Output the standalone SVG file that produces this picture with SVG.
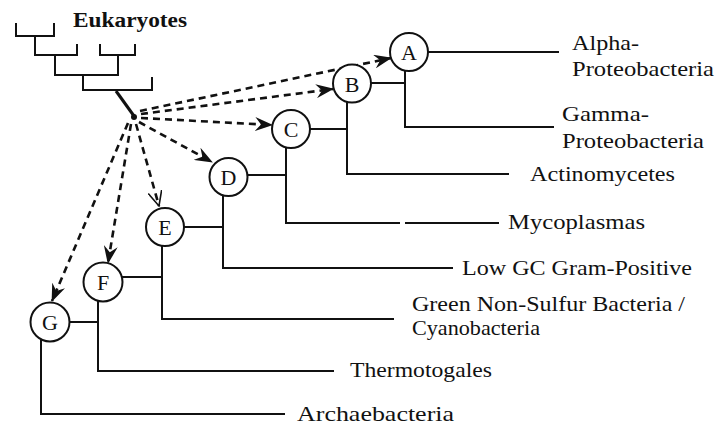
<svg xmlns="http://www.w3.org/2000/svg" width="716" height="429" viewBox="0 0 716 429">
<style>
.ln{fill:none;stroke:#111;stroke-width:2;stroke-linecap:square}
.dash{fill:none;stroke:#111;stroke-width:2.6;stroke-dasharray:7 5}
.nd{fill:#fff;stroke:#111;stroke-width:2}
.lt{font-family:"Liberation Serif","Times New Roman",serif;font-size:22px;fill:#111;text-anchor:middle}
.lb{font-family:"Liberation Serif","Times New Roman",serif;font-size:22px;fill:#111}
.eu{font-family:"Liberation Serif","Times New Roman",serif;font-size:20px;font-weight:bold;fill:#111}
</style>
<defs>
<marker id="ah" viewBox="0 0 18 14" refX="17" refY="7" markerWidth="18" markerHeight="14" markerUnits="userSpaceOnUse" orient="auto">
<path d="M0,0 L18,7 L0,14 L6,7 z" fill="#111"/>
</marker>
<marker id="ao" viewBox="0 0 16 14" refX="15" refY="7" markerWidth="16" markerHeight="14" markerUnits="userSpaceOnUse" orient="auto">
<path d="M0,0 L15,7 L0,14" fill="none" stroke="#111" stroke-width="1.6"/>
</marker>
</defs>
<rect width="716" height="429" fill="#fff"/>

<g id="eukaryotes">
<path class="ln" d="M16,24 V36 H54 V24 M35,36 V55 H77 V45 M100,45 V55 H135 V45 M55,55 V75 H118 V55 M83,75 V90 H152 V78"/>
<path d="M116,91 L134,116" fill="none" stroke="#111" stroke-width="3"/>
<circle cx="134" cy="117" r="3" fill="#111"/>
<text class="eu" x="73" y="27" textLength="114" lengthAdjust="spacingAndGlyphs">Eukaryotes</text>
</g>

<g id="connectors">
<path class="ln" d="M428,52 H558"/>
<path class="ln" d="M405,71 V127 H553"/>
<path class="ln" d="M371,83 H405"/>
<path class="ln" d="M347,102 V174 H508"/>
<path class="ln" d="M310,129 H347"/>
<path class="ln" d="M286,148 V223 H399"/>
<path class="ln" d="M406,223 H498"/>
<path class="ln" d="M247,175 H286"/>
<path class="ln" d="M223,196 V268 H452"/>
<path class="ln" d="M184,227 H223"/>
<path class="ln" d="M162,246 V319 H393"/>
<path class="ln" d="M122,277 H162"/>
<path class="ln" d="M98,301 V371 H333"/>
<path class="ln" d="M69,322 H98"/>
<path class="ln" d="M41,341 V414 H284"/>

<path class="dash" d="M140,111 L391,58" marker-end="url(#ah)"/>
<path class="dash" d="M141,114 L333,89" marker-end="url(#ah)"/>
<path class="dash" d="M141,118 L272,125" marker-end="url(#ah)"/>
<path class="dash" d="M139,122 L212,162" marker-end="url(#ah)"/>
<path class="dash" d="M136,124 L159,206" marker-end="url(#ao)"/>
<path class="dash" d="M131,124 L108,263" marker-end="url(#ah)"/>
<path class="dash" d="M128,123 L52,301" marker-end="url(#ah)"/>
</g>

<g id="node-A"><circle class="nd" cx="409" cy="52" r="19"/><text class="lt" x="409" y="60">A</text></g>
<g id="node-B"><circle class="nd" cx="352" cy="83.5" r="19"/><text class="lt" x="352" y="91.5">B</text></g>
<g id="node-C"><circle class="nd" cx="291" cy="129" r="19"/><text class="lt" x="291" y="137">C</text></g>
<g id="node-D"><circle class="nd" cx="228.5" cy="177" r="19"/><text class="lt" x="228.5" y="185">D</text></g>
<g id="node-E"><circle class="nd" cx="165" cy="227" r="19"/><text class="lt" x="165" y="235">E</text></g>
<g id="node-F"><circle class="nd" cx="103" cy="282" r="19.5"/><text class="lt" x="103" y="290">F</text></g>
<g id="node-G"><circle class="nd" cx="50" cy="322" r="19.5"/><text class="lt" x="50" y="330">G</text></g>

<g id="leaf-alpha"><text class="lb" x="572" y="50" textLength="67" lengthAdjust="spacingAndGlyphs">Alpha-</text><text class="lb" x="572" y="76" textLength="142" lengthAdjust="spacingAndGlyphs">Proteobacteria</text></g>
<g id="leaf-gamma"><text class="lb" x="562" y="121" textLength="87" lengthAdjust="spacingAndGlyphs">Gamma-</text><text class="lb" x="562" y="148" textLength="142" lengthAdjust="spacingAndGlyphs">Proteobacteria</text></g>
<g id="leaf-actino"><text class="lb" x="530" y="181" textLength="145" lengthAdjust="spacingAndGlyphs">Actinomycetes</text></g>
<g id="leaf-myco"><text class="lb" x="508" y="229" textLength="137" lengthAdjust="spacingAndGlyphs">Mycoplasmas</text></g>
<g id="leaf-lowgc"><text class="lb" x="462" y="275" textLength="230" lengthAdjust="spacingAndGlyphs">Low GC Gram-Positive</text></g>
<g id="leaf-green"><text class="lb" x="412" y="311" textLength="273" lengthAdjust="spacingAndGlyphs">Green Non-Sulfur Bacteria /</text><text class="lb" x="412" y="335" textLength="128" lengthAdjust="spacingAndGlyphs">Cyanobacteria</text></g>
<g id="leaf-thermo"><text class="lb" x="350" y="377" textLength="142" lengthAdjust="spacingAndGlyphs">Thermotogales</text></g>
<g id="leaf-archae"><text class="lb" x="297" y="421" textLength="157" lengthAdjust="spacingAndGlyphs">Archaebacteria</text></g>
</svg>
